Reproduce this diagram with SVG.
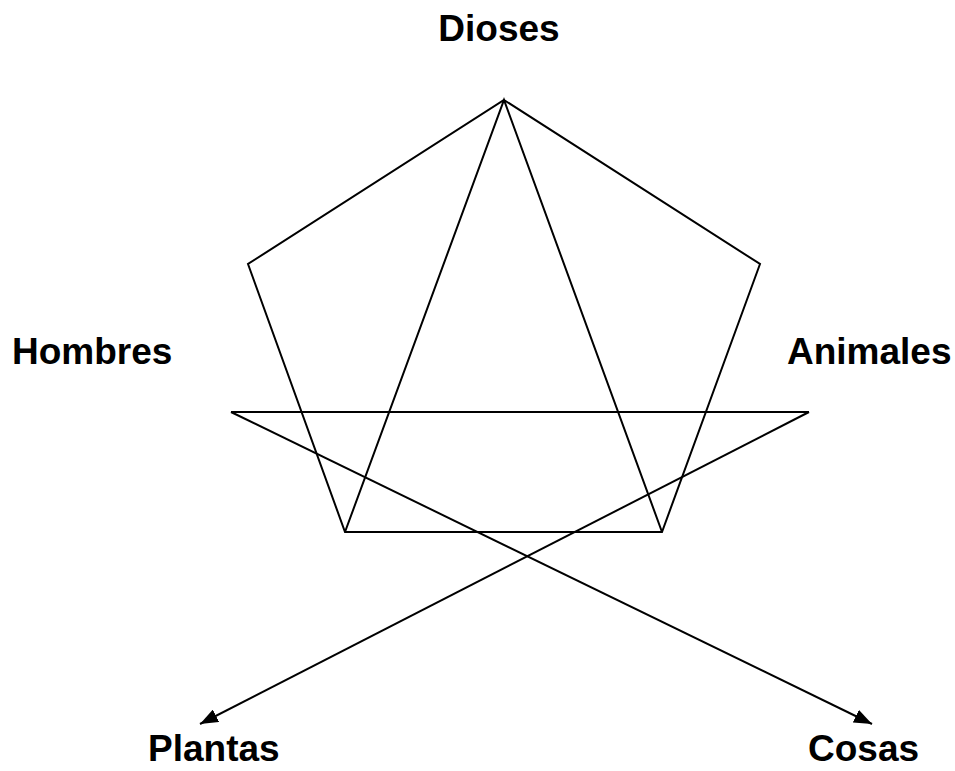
<svg xmlns="http://www.w3.org/2000/svg" width="955" height="771" viewBox="0 0 955 771">
<style>
.lbl{font-family:"Liberation Sans",Arial,sans-serif;font-weight:bold;font-size:37px;fill:#000}
.ln{stroke:#000;stroke-width:2;fill:none}
</style>
<defs>
<marker id="arr" viewBox="0 0 10 10" refX="10" refY="5" markerWidth="18" markerHeight="14" markerUnits="userSpaceOnUse" orient="auto" preserveAspectRatio="none">
<path d="M0,0 L10,5 L0,10 z" fill="#000"/>
</marker>
</defs>
<rect width="955" height="771" fill="#fff"/>
<g id="connectors">
<polygon class="ln" points="504,100 760,264 662,532 345,532 248,264"/>
<polyline class="ln" points="345,532 504,100 662,532"/>
<line class="ln" x1="231" y1="412" x2="809" y2="412"/>
<line class="ln" x1="231" y1="412" x2="872" y2="724" marker-end="url(#arr)"/>
<line class="ln" x1="809" y1="412" x2="200" y2="724" marker-end="url(#arr)"/>
</g>
<g id="dioses"><text class="lbl" x="499" y="41" text-anchor="middle">Dioses</text></g>
<g id="hombres"><text class="lbl" x="12" y="364">Hombres</text></g>
<g id="animales"><text class="lbl" x="787" y="364">Animales</text></g>
<g id="plantas"><text class="lbl" x="148" y="761">Plantas</text></g>
<g id="cosas"><text class="lbl" x="808" y="761">Cosas</text></g>
</svg>
